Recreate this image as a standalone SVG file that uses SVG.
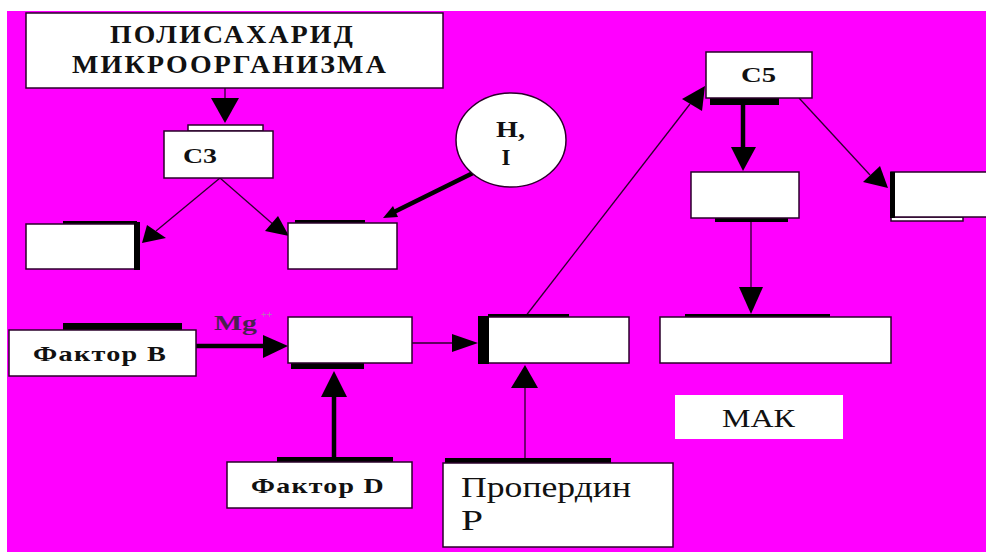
<svg xmlns="http://www.w3.org/2000/svg" width="986" height="552" viewBox="0 0 986 552">
<style>
.box{fill:#ffffff;stroke:#2a002a;stroke-width:1.5}
.bar{fill:#000000}
.t{font-family:"Liberation Serif","DejaVu Serif","Times New Roman",serif;fill:#111111}
.b{font-weight:bold}
.thin{stroke:#2a002a;stroke-width:1.3;fill:none}
.thick{stroke:#000000;stroke-width:4.5;fill:none}
.head{fill:#000000}
</style>
<rect x="0" y="0" width="986" height="552" fill="#ffffff"/>
<rect x="7" y="11" width="979" height="541" fill="#ff00ff"/>

<g id="connectors">
  <line class="thin" x1="225" y1="88" x2="225" y2="100"/>
  <polygon class="head" points="211,98 239,98 225,123"/>
  <line class="thin" x1="220" y1="178" x2="156" y2="231"/>
  <polygon class="head" points="142,243 147,225 166,238"/>
  <line class="thin" x1="220" y1="178" x2="275" y2="226"/>
  <polygon class="head" points="289,236 265,231 278,216"/>
  <line class="thick" x1="475" y1="172" x2="394" y2="212"/>
  <polygon class="head" points="383,218 398,217 393,206"/>
  <line class="thick" x1="192" y1="346" x2="266" y2="346"/>
  <polygon class="head" points="263,335 263,358 288,346"/>
  <line class="thick" x1="334" y1="457" x2="334" y2="395"/>
  <polygon class="head" points="321,397 347,397 334,371"/>
  <line class="thin" x1="412" y1="343" x2="455" y2="343"/>
  <polygon class="head" points="452,334 452,352 478,343"/>
  <line class="thin" x1="525" y1="317" x2="690" y2="104"/>
  <polygon class="head" points="705,86 682,99 702,111"/>
  <line class="thin" x1="525" y1="458" x2="525" y2="387"/>
  <polygon class="head" points="511,388 538,388 525,365"/>
  <line class="thick" x1="743" y1="105" x2="743" y2="149"/>
  <polygon class="head" points="731,147 756,147 743,171"/>
  <line class="thin" x1="799" y1="98" x2="870" y2="175"/>
  <polygon class="head" points="888,188 863,182 880,166"/>
  <line class="thin" x1="751" y1="222" x2="751" y2="290"/>
  <polygon class="head" points="739,287 763,287 751,314"/>
</g>

<g id="polysaccharide">
  <rect class="box" x="26" y="13" width="417" height="75"/>
  <text class="t b" x="110" y="43" font-size="25" letter-spacing="2" textLength="245" lengthAdjust="spacingAndGlyphs">ПОЛИСАХАРИД</text>
  <text class="t b" x="72" y="73" font-size="25" letter-spacing="2" textLength="316" lengthAdjust="spacingAndGlyphs">МИКРООРГАНИЗМА</text>
</g>

<g id="c3">
  <rect class="box" x="188" y="125" width="75" height="6"/>
  <rect class="box" x="164" y="131" width="109" height="47"/>
  <text class="t b" x="183" y="163" font-size="22" textLength="34" lengthAdjust="spacingAndGlyphs">С3</text>
</g>

<g id="box-left">
  <rect class="bar" x="63" y="221" width="74" height="4"/>
  <rect class="box" x="26" y="224" width="109" height="45"/>
  <rect class="bar" x="134" y="222" width="6" height="48"/>
</g>

<g id="box-mid-upper">
  <rect class="bar" x="295" y="220" width="70" height="4"/>
  <rect class="box" x="288" y="223" width="109" height="46"/>
</g>

<g id="hi-circle">
  <ellipse class="box" cx="511" cy="140" rx="55" ry="47"/>
  <text class="t b" x="496" y="137" font-size="23" textLength="29" lengthAdjust="spacingAndGlyphs">H,</text>
  <text class="t b" x="506" y="165" font-size="23" text-anchor="middle">I</text>
</g>

<g id="factor-b">
  <rect class="bar" x="63" y="323" width="119" height="8"/>
  <rect class="box" x="9" y="330" width="187" height="46"/>
  <text class="t b" x="33" y="361" font-size="22" letter-spacing="1" textLength="134" lengthAdjust="spacingAndGlyphs">Фактор B</text>
</g>

<g id="mg-label">
  <text x="214" y="330" font-family="Liberation Serif, DejaVu Serif, serif" font-weight="bold" font-size="21" textLength="43" lengthAdjust="spacingAndGlyphs" fill="#4a2050">Mg</text>
  <text x="261" y="318" font-family="Liberation Serif, DejaVu Serif, serif" font-weight="bold" font-size="10" fill="#b080b0">++</text>
</g>

<g id="box-middle">
  <rect class="bar" x="291" y="362" width="73" height="7"/>
  <rect class="box" x="288" y="317" width="124" height="46"/>
</g>

<g id="factor-d">
  <rect class="bar" x="277" y="457" width="116" height="6"/>
  <rect class="box" x="227" y="462" width="185" height="46"/>
  <text class="t b" x="251" y="493" font-size="22" letter-spacing="1" textLength="134" lengthAdjust="spacingAndGlyphs">Фактор D</text>
</g>

<g id="box-pre-c5">
  <rect class="bar" x="488" y="314" width="81" height="4"/>
  <rect class="box" x="488" y="317" width="141" height="46"/>
  <rect class="bar" x="478" y="316" width="11" height="48"/>
</g>

<g id="properdin">
  <rect class="bar" x="445" y="458" width="166" height="6"/>
  <rect class="box" x="443" y="463" width="230" height="84"/>
  <text class="t" x="461" y="497" font-size="30" textLength="170" lengthAdjust="spacingAndGlyphs">Пропердин</text>
  <text class="t" x="461" y="530" font-size="30" textLength="22" lengthAdjust="spacingAndGlyphs">Р</text>
</g>

<g id="c5">
  <rect class="bar" x="710" y="97" width="69" height="8"/>
  <rect class="box" x="706" y="52" width="106" height="46"/>
  <text class="t b" x="741" y="82" font-size="22" textLength="35" lengthAdjust="spacingAndGlyphs">С5</text>
</g>

<g id="box-mid-right">
  <rect class="bar" x="715" y="217" width="73" height="5"/>
  <rect class="box" x="691" y="172" width="108" height="46"/>
</g>

<g id="box-right">
  <rect class="box" x="891" y="217" width="72" height="4"/>
  <rect class="box" x="891" y="172" width="100" height="45"/>
  <rect class="bar" x="890" y="172" width="5" height="46"/>
</g>

<g id="box-big">
  <rect class="bar" x="685" y="314" width="145" height="4"/>
  <rect class="box" x="660" y="317" width="231" height="46"/>
</g>

<g id="mak">
  <rect x="675" y="395" width="168" height="44" fill="#ffffff"/>
  <text class="t" x="722" y="427" font-size="26" textLength="73" lengthAdjust="spacingAndGlyphs">МАК</text>
</g>
</svg>
